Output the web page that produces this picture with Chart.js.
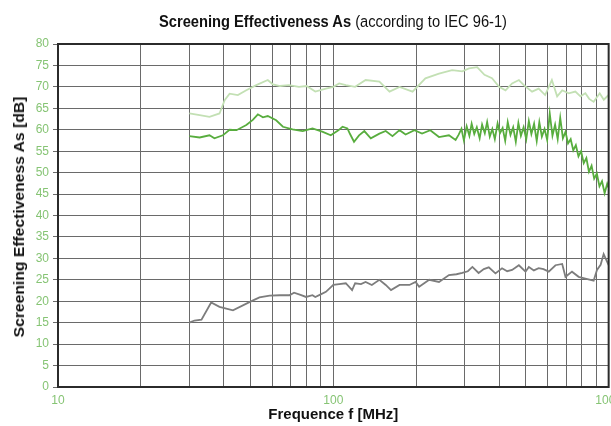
<!DOCTYPE html>
<html>
<head>
<meta charset="utf-8">
<script src="https://cdn.jsdelivr.net/npm/chart.js@4.4.1/dist/chart.umd.min.js"></script>
<style>
  html, body { margin: 0; padding: 0; background: #fff; overflow: hidden; }
  body { width: 611px; height: 426px; position: relative; font-family: "Liberation Sans", Arial, sans-serif; }
  #wrap { position: absolute; left: 0; top: 0; width: 628px; height: 426px; }
  #title { position: absolute; left: 58px; width: 550px; top: 13px; line-height: 16px; text-align: center;
           font-size: 14.7px; color: #111; white-space: nowrap; transform: scaleY(1.12); }
  #ytitle { position: absolute; left: 19px; top: 217px; line-height: 16px;
            transform: translate(-50%, -50%) rotate(-90deg) scaleX(1.12);
            white-space: nowrap; font-size: 14px; font-weight: bold; color: #111; }
</style>
</head>
<body>
<div id="wrap"><canvas id="chart"></canvas></div>
<div id="title"><b>Screening Effectiveness As</b> (according to IEC 96-1)</div>
<div id="ytitle">Screening Effectiveness As [dB]</div>
<script>
// ─── Data ───────────────────────────────────────────────────────────────────

const xGridLines = [10, 20, 30, 40, 50, 60, 70, 80, 90, 100, 200, 300, 400, 500, 600, 700, 800, 900, 1000];
const xLabelValues = [10, 100, 1000];

// light green (upper curve)
const topFreq = [30, 32.7, 35.5, 38.6, 40.3, 42, 45, 48.3, 52.5, 57.8,
  60.3, 64, 69, 75, 80, 86, 94, 100, 105, 111,
  120, 131, 147, 160, 174, 194, 216, 242, 270, 294,
  311, 333, 354, 377, 400, 422, 446, 472, 492, 527,
  557, 588, 622, 650, 678, 716, 757, 790, 823, 850,
  882, 928, 960, 1000];
const topVal = [63.8, 63.4, 63.0, 63.8, 66.9, 68.4, 68.1, 69.2, 70.4, 71.6,
  70.6, 70.2, 70.4, 70.0, 70.2, 68.9, 69.6, 70.0, 70.8, 70.4,
  70.0, 71.6, 71.2, 68.9, 70.0, 68.9, 72.0, 73.1, 73.9, 73.6,
  74.3, 74.6, 72.8, 72.0, 70.0, 69.2, 70.8, 71.6, 70.4, 68.9,
  69.6, 68.1, 71.6, 67.8, 69.2, 68.5, 68.9, 67.8, 68.5, 67.2,
  66.5, 68.5, 67.0, 68.1];

// green (middle curve)
const midFreq = [30, 32.7, 35.5, 37, 39.7, 42, 44.5, 48.3, 51, 53.2,
  55.5, 57.8, 62, 65.6, 71.1, 77.4, 84, 91.6, 97.9, 104,
  108, 112.5, 115, 118.9, 124, 129.6, 136.8, 147, 155, 164,
  174, 183, 197, 210, 225, 242, 263, 278,
  285, 292, 298, 305, 312, 318, 325, 332, 340, 347,
  355, 362, 370, 378, 386, 395, 403, 412, 421, 430,
  440, 450, 460, 470, 480, 491, 502, 513, 524, 536,
  548, 560, 572, 585, 598, 611, 625, 639, 653, 667,
  682, 697, 712, 728, 744, 760, 777, 794, 812, 830,
  848, 867, 886, 906, 926, 946, 967, 988, 1000];
const midVal = [58.5, 58.2, 58.7, 58.0, 58.7, 60.0, 59.9, 61.1, 62.3, 63.6,
  62.9, 63.2, 62.2, 60.7, 60.1, 59.7, 60.3, 59.5, 58.7, 59.8,
  60.7, 60.3, 59.0, 57.2, 58.7, 59.7, 58.0, 59.1, 59.7, 58.5,
  59.9, 58.9, 59.9, 59.1, 59.9, 58.3, 58.7, 57.6,
  58.8, 60.2, 57.5, 60.8, 58.6, 61.4, 59.0, 60.6, 58.0, 61.2,
  59.2, 61.8, 58.4, 60.2, 57.8, 61.5, 59.2, 60.4, 57.4, 61.8,
  58.8, 60.6, 57.2, 61.6, 58.6, 60.6, 57.8, 62.0, 59.0, 61.4,
  57.4, 61.8, 58.4, 60.2, 57.6, 63.8, 58.6, 61.2, 57.8, 62.8,
  58.0, 59.5, 56.8, 57.8, 55.2, 56.4, 53.8, 55.0, 52.2, 53.4,
  50.2, 51.6, 48.6, 49.8, 46.8, 48.0, 45.2, 47.4, 46.5];

// gray (lower curve)
const lowFreq = [30, 31.3, 33.2, 36, 38.6, 43.2, 50, 53.9, 58.7, 64,
  69.3, 72, 76, 79.6, 84, 86, 90, 94, 100, 105,
  111, 117, 120, 126, 131, 138, 147, 155, 162, 174,
  189, 199, 205, 223, 242, 263, 280, 294, 308, 320,
  337, 352, 367, 388, 410, 428, 446, 472, 499, 513,
  535, 557, 580, 606, 641, 678, 697, 736, 778, 823,
  882, 907, 935, 959, 1000];
const lowVal = [15.0, 15.5, 15.7, 19.7, 18.7, 17.9, 19.9, 20.9, 21.3, 21.4,
  21.4, 22.0, 21.5, 21.0, 21.4, 21.0, 21.6, 22.2, 23.8, 24.0,
  24.2, 22.6, 24.2, 24.0, 24.5, 23.8, 25.0, 23.8, 22.6, 23.8,
  23.8, 24.5, 23.4, 25.0, 24.5, 26.1, 26.3, 26.6, 27.0, 28.0,
  26.6, 27.5, 27.9, 26.5, 27.7, 27.0, 27.3, 28.4, 26.9, 28.0,
  27.2, 27.7, 27.5, 26.9, 28.4, 28.7, 25.7, 26.9, 25.7, 25.3,
  24.8, 27.3, 28.5, 31.0, 28.4];

// ─── Helpers ────────────────────────────────────────────────────────────────

const tickGreen = "#86c474";
const gridColor = "#6a6a6a";

const toPoints = (xs, ys) => xs.map((x, i) => ({ x, y: ys[i] }));

const lineSet = (data, color) => ({
  data,
  borderColor: color,
  borderWidth: 1.8,
  pointRadius: 0,
  showLine: true,
  tension: 0,
  fill: false,
});

// frame round the plot area
const frame = {
  id: "frame",
  afterDraw(chart) {
    const { ctx, chartArea: a } = chart;
    ctx.save();
    ctx.strokeStyle = "#2b2b2b";
    ctx.lineWidth = 2;
    ctx.strokeRect(a.left, a.top, a.right - a.left, a.bottom - a.top);
    ctx.restore();
  },
};

// ─── Chart ──────────────────────────────────────────────────────────────────

new Chart(document.getElementById("chart"), {
  type: "scatter",
  data: {
    datasets: [
      lineSet(toPoints(topFreq, topVal), "#c3e0b4"),
      lineSet(toPoints(midFreq, midVal), "#58ad3e"),
      lineSet(toPoints(lowFreq, lowVal), "#7d7d7d"),
    ],
  },
  options: {
    responsive: true,
    maintainAspectRatio: false,
    animation: false,
    layout: { padding: { top: 44, left: 0, right: 0, bottom: 2 } },
    plugins: {
      legend: { display: false },
      tooltip: { enabled: false },
    },
    scales: {
      x: {
        type: "logarithmic",
        min: 10,
        max: 1000,
        afterBuildTicks: (s) => {
          s.ticks = xGridLines.map((v) => ({ value: v }));
        },
        afterFit: (s) => {
          s.height = 37;
        },
        grid: { color: gridColor, lineWidth: 1, drawTicks: false },
        border: { display: false },
        ticks: {
          autoSkip: false,
          maxRotation: 0,
          padding: 6,
          color: tickGreen,
          font: { family: "'Liberation Sans', Arial", size: 12 },
          callback: (v) => (xLabelValues.includes(v) ? String(v) : ""),
        },
        title: {
          display: true,
          text: "Frequence f [MHz]",
          color: "#111",
          padding: { top: 0, bottom: 0 },
          font: { family: "'Liberation Sans', Arial", size: 15, weight: "bold" },
        },
      },
      y: {
        min: 0,
        max: 80,
        afterFit: (s) => {
          s.width = 58;
        },
        grid: { color: gridColor, lineWidth: 1, tickLength: 5 },
        border: { display: false },
        ticks: {
          stepSize: 5,
          padding: 4,
          color: tickGreen,
          font: { family: "'Liberation Sans', Arial", size: 12 },
        },
      },
    },
  },
  plugins: [frame],
});
</script>
</body>
</html>
